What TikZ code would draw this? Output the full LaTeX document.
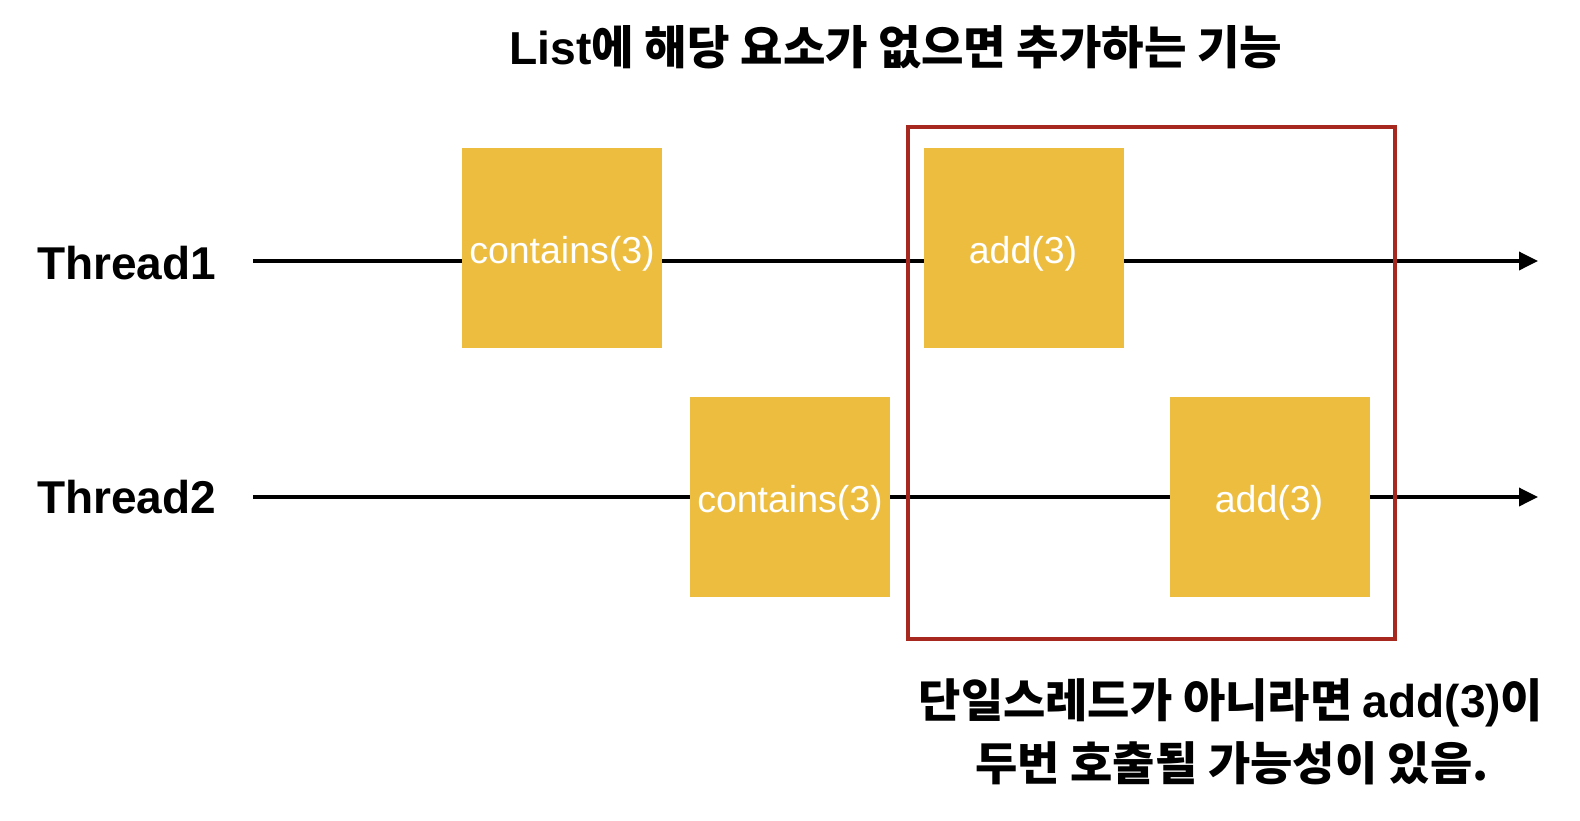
\documentclass[tikz,border=0pt]{standalone}
\usepackage{fontspec}
\setmainfont{Liberation Sans}
\newfontfamily\kr{Noto Sans CJK KR}
\usetikzlibrary{arrows.meta}
\definecolor{boxyellow}{RGB}{237,189,64}
\definecolor{boxred}{RGB}{166,40,30}
\tikzset{
  opbox/.style={fill=boxyellow, draw=none, minimum width=200pt, minimum height=200pt, inner sep=0pt},
  oplabel/.style={text=white, font=\fontsize{37.5}{40}\selectfont},
  threadlabel/.style={anchor=base west, font=\fontsize{46}{50}\selectfont\bfseries, inner sep=0pt},
  tline/.style={line width=3.5pt, black},
  tarrow/.style={tline, -{Triangle[length=19pt,width=18pt]}},
  critbox/.style={draw=boxred, line width=3.5pt, fill=none},
  heading/.style={font=\fontsize{46.2}{50}\selectfont\bfseries, inner sep=0pt, anchor=base},
  note/.style={font=\fontsize{46}{50}\selectfont\bfseries, inner sep=0pt, anchor=base}
}
\begin{document}
\begin{tikzpicture}[x=1pt,y=-1pt]
\useasboundingbox (0,0) rectangle (1580,820);

% title
\node[heading] (title) at (896,64) {List{\kr 에 해당 요소가 없으면 추가하는 기능}};

% thread labels
\node[threadlabel] (th1) at (37,279) {Thread1};
\node[threadlabel] (th2) at (37,513) {Thread2};

% thread lines
\coordinate (t1s) at (253,261);
\coordinate (t1e) at (1538,261);
\coordinate (t2s) at (253,497);
\coordinate (t2e) at (1538,497);
\draw[tarrow] (t1s) -- (t1e);
\draw[tarrow] (t2s) -- (t2e);

% critical region
\node[critbox, minimum width=487pt, minimum height=512pt, inner sep=0pt] (crit) at (1151.5,383) {};

% operation boxes
\node[opbox] (c1) at (562,248) {};
\node[oplabel] (c1l) at (562,254) {contains(3)};
\node[opbox] (a1) at (1024,248) {};
\node[oplabel] (a1l) at (1023,254) {add(3)};
\node[opbox] (c2) at (790,497) {};
\node[oplabel] (c2l) at (790,503) {contains(3)};
\node[opbox] (a2) at (1270,497) {};
\node[oplabel] (a2l) at (1269,503) {add(3)};

% bottom note
\node[note] (n1) at (1231,717) {{\kr 단일스레드가 아니라면 }add(3){\kr 이}};
\node[note] (n2) at (1232,780) {{\kr 두번 호출될 가능성이 있음.}};
\end{tikzpicture}
\end{document}
